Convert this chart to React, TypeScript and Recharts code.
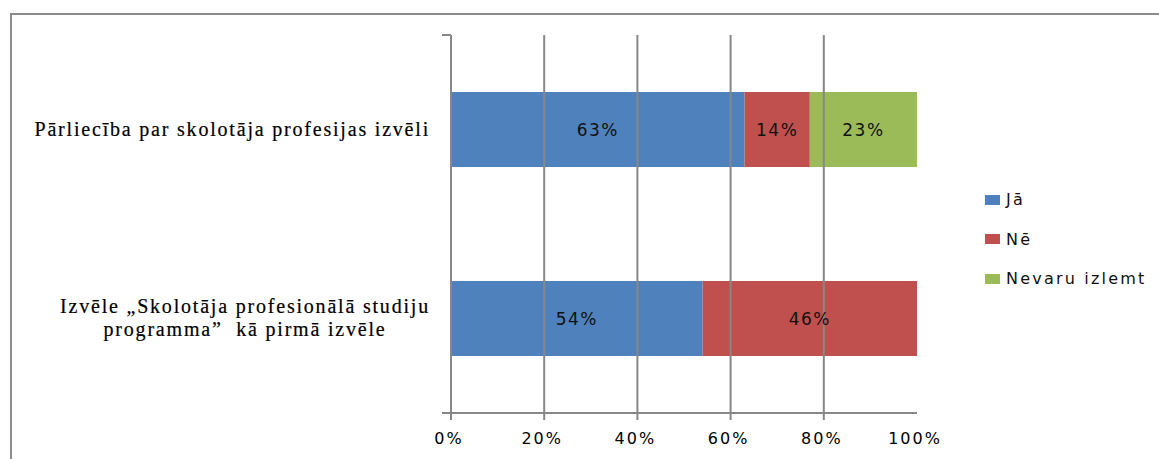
import { BarChart, Bar, XAxis, YAxis, ReferenceLine, LabelList } from "recharts";

const categoryLines = [
  ["Pārliecība par skolotāja profesijas izvēli"],
  ["Izvēle „Skolotāja profesionālā studiju", "programma”  kā pirmā izvēle"],
];
const categories = categoryLines.map((l) => l.join(" "));
const jaValues = [63, 54];
const neValues = [14, 46];
const nevaruValues = [23, 0];
const xTicks = [0, 20, 40, 60, 80, 100];
const gridValues = [20, 40, 60, 80];

const seriesNames = ["Jā", "Nē", "Nevaru izlemt"];
const seriesColors = ["#4F81BD", "#C0504D", "#9BBB59"];

const data = categories.map((c, i) => ({
  name: c,
  ja: jaValues[i],
  ne: neValues[i],
  nevaru: nevaruValues[i],
}));

const AXIS = "#878787";
const SANS = "'DejaVu Sans', Verdana, sans-serif";
const SERIF = "'Liberation Serif', 'Times New Roman', serif";
const SERIF_SIZE = 20;
const SERIF_SPACING = 1.8;

let canvas: HTMLCanvasElement | null = null;
function measure(text: string) {
  if (!canvas) canvas = document.createElement("canvas");
  const ctx = canvas.getContext("2d")!;
  ctx.font = `${SERIF_SIZE}px ${SERIF}`;
  return ctx.measureText(text).width + text.length * SERIF_SPACING;
}

function CategoryTick(props: any) {
  const { x, y, payload, index, visibleTicksCount } = props;
  const lines = categoryLines[index] || [payload.value];
  const widths = lines.map(measure);
  const maxW = Math.max(...widths);
  const right = x - 21;
  const cx = right - maxW / 2;
  const lh = 23;
  const off = payload.offset || 0;
  return (
    <g>
      {index === 0 && <line x1={x - 9} x2={x} y1={y - off} y2={y - off} stroke={AXIS} strokeWidth={2} />}
      {index === visibleTicksCount - 1 && (
        <line x1={x - 9} x2={x} y1={y + off} y2={y + off} stroke={AXIS} strokeWidth={2} />
      )}
      {lines.map((l, i) => (
        <text
          key={i}
          x={cx}
          y={y + (i - (lines.length - 1) / 2) * lh + 6}
          textAnchor="middle"
          fontFamily={SERIF}
          fontSize={SERIF_SIZE}
          letterSpacing={SERIF_SPACING}
          fill="#000"
          stroke="#000"
          strokeWidth={0.2}
          style={{ whiteSpace: "pre" }}
        >
          {l}
        </text>
      ))}
    </g>
  );
}

function PercentTick(props: any) {
  const { x, y, payload } = props;
  return (
    <g>
      {payload.value !== 100 && <line x1={x} x2={x} y1={y} y2={y + 7} stroke={AXIS} strokeWidth={2} />}
      <text x={x - 2} y={y + 31} textAnchor="middle" fontFamily={SANS} fontSize={16} letterSpacing={2} fill="#000">
        {payload.value}%
      </text>
    </g>
  );
}

function ChartLegend() {
  return (
    <div
      style={{
        position: "absolute",
        left: 985,
        top: 180,
        fontFamily: SANS,
        fontSize: 16,
        letterSpacing: 2.2,
        color: "#111",
      }}
    >
      {seriesNames.map((n, i) => (
        <div key={n} style={{ display: "flex", alignItems: "center", height: 39.5, whiteSpace: "nowrap" }}>
          <span style={{ width: 15, height: 10, background: seriesColors[i], marginRight: 6, display: "inline-block" }} />
          <span>{n}</span>
        </div>
      ))}
    </div>
  );
}

const labelFmt = (v: any) => (v ? `${v}%` : "");
const labelProps = { position: "center" as const, formatter: labelFmt, fill: "#111", fontSize: 17, fontFamily: SANS, letterSpacing: 1.5 };

export default function App() {
  return (
    <div style={{ position: "absolute", left: 0, top: 0, width: 1159, height: 459, background: "#fff", overflow: "hidden" }}>
      <div
        style={{
          position: "absolute",
          left: 10,
          top: 13,
          width: 1160,
          height: 460,
          borderTop: "2px solid #8c8c8c",
          borderLeft: "2px solid #8c8c8c",
        }}
      />
      <BarChart
        width={1159}
        height={459}
        data={data}
        layout="vertical"
        margin={{ top: 35, right: 242, left: 0, bottom: 0 }}
        style={{ position: "absolute", left: 0, top: 0 }}
      >
        {gridValues.map((v) => (
          <ReferenceLine key={v} x={v} stroke={AXIS} strokeWidth={2} />
        ))}
        <XAxis
          type="number"
          domain={[0, 100]}
          ticks={xTicks}
          height={46}
          tickSize={0}
          tickMargin={0}
          tickLine={false}
          axisLine={{ stroke: AXIS, strokeWidth: 2 }}
          tick={<PercentTick />}
          interval={0}
        />
        <YAxis
          type="category"
          dataKey="name"
          width={451}
          tickSize={0}
          tickMargin={0}
          tickLine={false}
          axisLine={{ stroke: AXIS, strokeWidth: 2 }}
          tick={<CategoryTick />}
          interval={0}
        />
        <Bar dataKey="ja" stackId="a" fill={seriesColors[0]} barSize={75} isAnimationActive={false}>
          <LabelList dataKey="ja" {...labelProps} />
        </Bar>
        <Bar dataKey="ne" stackId="a" fill={seriesColors[1]} barSize={75} isAnimationActive={false}>
          <LabelList dataKey="ne" {...labelProps} />
        </Bar>
        <Bar dataKey="nevaru" stackId="a" fill={seriesColors[2]} barSize={75} isAnimationActive={false}>
          <LabelList dataKey="nevaru" {...labelProps} />
        </Bar>
      </BarChart>
      <ChartLegend />
    </div>
  );
}
